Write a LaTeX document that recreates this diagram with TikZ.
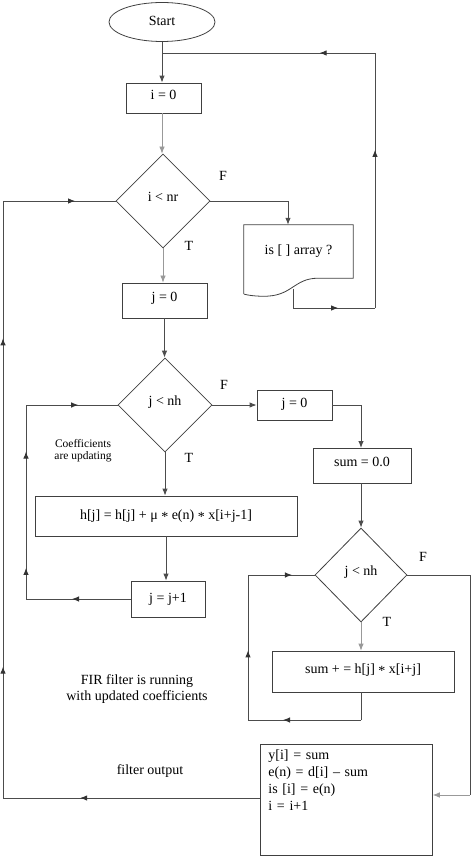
\documentclass[tikz,border=0pt]{standalone}
\usepackage{fontspec}
\setmainfont{Liberation Serif}
\usetikzlibrary{shapes.geometric,arrows.meta,decorations.markings}
\tikzset{
 every node/.style={font=\fontsize{14}{17}\selectfont},
 box/.style={draw=black!75, line width=0.8pt, rectangle, inner sep=0pt},
 dia/.style={draw=black!75, line width=0.8pt, diamond, inner sep=0pt, minimum width=94pt, minimum height=94pt},
 ln/.style={draw=black!70, line width=0.9pt},
 lt/.style={draw=black!40, line width=0.8pt},
 tip/.style={-{Latex[length=7pt,width=5.5pt]}},
 midtip/.style={postaction={decorate,decoration={markings,mark=at position #1 with {\arrow[black!80]{Latex[length=7pt,width=5.5pt]}}}}},
 small/.style={font=\fontsize{11.5}{12}\selectfont, align=center},
}
\begin{document}
\begin{tikzpicture}[x=1pt,y=-1pt]
\useasboundingbox (0,0) rectangle (474,858);
% nodes
\node[ellipse, draw=black!75, line width=0.8pt, minimum width=106pt, minimum height=39pt, inner sep=0pt] (start) at (162,22) {\raisebox{3pt}{Start}};
\node[box, minimum width=75pt, minimum height=30pt] (i0) at (163.5,98) {\raisebox{6pt}{i = 0}};
\node[dia] (d1) at (163,201) {\raisebox{8pt}{i < nr}};
\node[minimum width=109pt, minimum height=53pt, inner sep=0pt] (arr) at (298.5,251.5) {\raisebox{3pt}{is [ ] array ?}};
\draw[draw=black!75, line width=0.8pt] (arr.south west) ++(0,16) -- (arr.north west) -- (arr.north east) -- (arr.south east)
  -- ++(-35,0) .. controls ++(-25,0) and ++(30,1) .. ++(-56,18) .. controls ++(-8,0) and ++(4,1) .. ++(-18,-2);
\node[box, minimum width=85pt, minimum height=35pt] (j0) at (164.5,300.5) {\raisebox{8pt}{j = 0}};
\node[dia] (d2) at (165,405) {\raisebox{8pt}{j < nh}};
\node[box, minimum width=75pt, minimum height=30pt] (j0b) at (294.5,405) {\raisebox{5pt}{j = 0}};
\node[box, minimum width=98pt, minimum height=35pt] (sum0) at (362,465.5) {\raisebox{8pt}{sum = 0.0}};
\node[box, minimum width=262pt, minimum height=40pt] (h) at (166,516) {h[j] = h[j] + μ \raisebox{-2pt}{*} e(n) \raisebox{-2pt}{*} x[i+j-1]};
\node[box, minimum width=74pt, minimum height=36pt] (jp) at (168,599) {\raisebox{1pt}{j = j+1}};
\node[dia, minimum width=92pt] (d3) at (361,575) {\raisebox{8pt}{j < nh}};
\node[box, minimum width=182pt, minimum height=41pt] (sp) at (363,671.5) {\raisebox{6pt}{sum + = h[j] \raisebox{-2pt}{*} x[i+j]}};
\node[box, anchor=north west, text width=156pt, align=left, inner xsep=8pt, inner ysep=5pt, text height=10pt, text depth=91pt] (out) at (260,744)
  {y[i] = sum\\e(n) = d[i] – sum\\is [i] = e(n)\\i = i+1};
% labels
\node (f1) at (223,176) {F};
\node (t1) at (189,246) {T};
\node (f2) at (224,385) {F};
\node (t2) at (189,458) {T};
\node (f3) at (423,557) {F};
\node (t3) at (387,622) {T};
\node[small] (coef) at (83,451) {Coefficients\\are updating};
\node[align=center, font=\fontsize{14}{16}\selectfont] (fir) at (137,689) {FIR filter is running\\with updated coefficients};
\node (fo) at (150,771) {filter output};
% coordinates
\coordinate (c1) at (162,53);
\coordinate (cA) at (288,201);
\coordinate (aB) at (293,289);
\coordinate (aC) at (293,308);
\coordinate (aD) at (375,308);
\coordinate (aE) at (375,53);
\coordinate (sT) at (361,448);
\coordinate (jL1) at (26,599);
\coordinate (jL2) at (26,405);
\coordinate (fR1) at (470,575);
\coordinate (fR2) at (470,795);
\coordinate (sB1) at (361,720);
\coordinate (sB2) at (248,720);
\coordinate (sB3) at (248,575);
\coordinate (oL1) at (3,798);
\coordinate (oL2) at (3,201);
% connectors
\draw[ln,tip] (start.south) -- (start.south |- i0.north);
\draw[lt,tip] (i0.south -| start.south) -- (start.south |- d1.north);
\draw[ln,tip] (d1.east) -- (cA) -- (cA |- arr.north);
\draw[ln] (aB) -- (aC);
\draw[ln,midtip=0.55] (aC) -- (aD);
\draw[ln,midtip=0.62] (aD) -- (aE);
\draw[ln,midtip=0.26] (aE) -- (c1);
\draw[lt,tip] (d1.south) -- (d1.south |- j0.north);
\draw[ln,tip] (j0.south) -- (j0.south |- d2.north);
\draw[ln,tip] (d2.east) -- (j0b.west);
\draw[ln,tip] (j0b.east) -| (sT);
\draw[ln,tip] (d2.south) -- (d2.south |- h.north);
\draw[ln,tip] (h.south) -- (h.south |- jp.north);
\draw[ln,midtip=0.56] (jp.west) -- (jL1);
\draw[ln,midtip=0.16,midtip=0.76] (jL1) -- (jL2);
\draw[ln,midtip=0.57] (jL2) -- (d2.west);
\draw[ln,tip] (sum0.south -| d3.north) -- (d3.north);
\draw[ln] (d3.east) -- (fR1) -- (fR2);
\draw[lt,tip] (fR2) -- (fR2 -| out.east);
\draw[lt,tip] (d3.south) -- (d3.south |- sp.north);
\draw[ln] (sp.south -| sB1) -- (sB1);
\draw[ln,midtip=0.69] (sB1) -- (sB2);
\draw[ln,midtip=0.48] (sB2) -- (sB3);
\draw[ln,midtip=0.66] (sB3) -- (d3.west);
\draw[ln,midtip=0.70] (out.west |- oL1) -- (oL1);
\draw[ln,midtip=0.22,midtip=0.77] (oL1) -- (oL2);
\draw[ln,midtip=0.64] (oL2) -- (d1.west);
\end{tikzpicture}
\end{document}
